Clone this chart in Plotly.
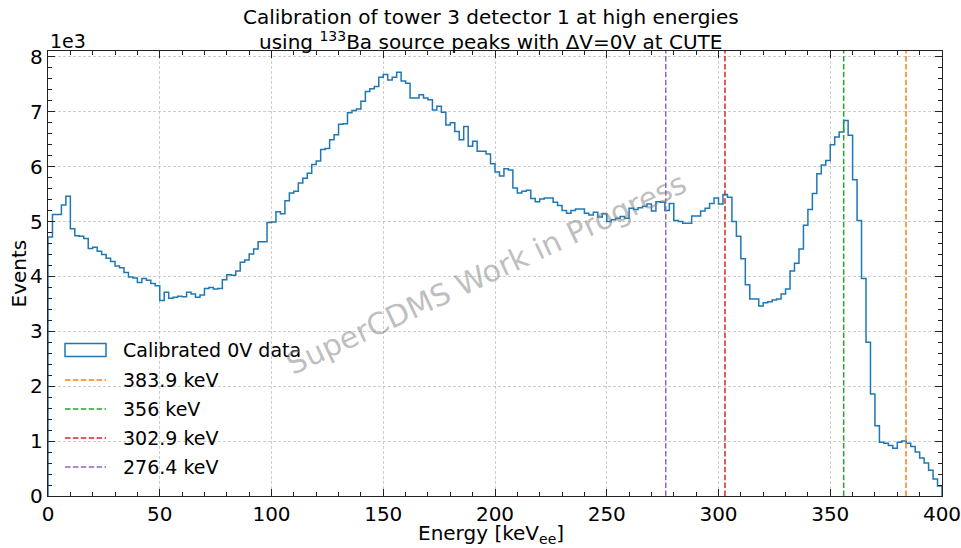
import numpy as np
import plotly.graph_objects as go

# Histogram of calibrated 0V energies: 2 keV bins from 0 to 400 keV
e_min, e_max = 0.0, 400.0
counts = [
    4720, 5130, 5130, 5300, 5460, 4870, 4740, 4730, 4690, 4510,
    4530, 4460, 4400, 4330, 4270, 4190, 4160, 4070, 3990, 3970,
    3890, 3960, 3930, 3870, 3830, 3560, 3710, 3600, 3620, 3640,
    3630, 3710, 3680, 3620, 3660, 3780, 3800, 3770, 3780, 3940,
    4030, 4020, 4100, 4260, 4300, 4410, 4500, 4630, 4630, 4980,
    4990, 5180, 5140, 5380, 5520, 5550, 5700, 5790, 5880, 6040,
    6100, 6310, 6330, 6490, 6580, 6770, 6780, 6980, 7020, 7050,
    7190, 7370, 7420, 7460, 7630, 7680, 7580, 7630, 7720, 7560,
    7520, 7250, 7250, 7310, 7250, 7220, 7030, 7100, 6990, 6760,
    6800, 6640, 6490, 6730, 6370, 6460, 6280, 6280, 6230, 6050,
    5900, 5830, 5960, 5940, 5610, 5520, 5550, 5570, 5420, 5360,
    5410, 5430, 5430, 5350, 5290, 5200, 5150, 5200, 5230, 5230,
    5150, 5120, 5170, 5080, 5140, 5000, 5030, 5060, 5090, 5060,
    5240, 5220, 5250, 5280, 5320, 5190, 5360, 5350, 5200, 5330,
    5020, 5000, 4970, 4970, 5100, 5100, 5190, 5240, 5330, 5430,
    5320, 5490, 5440, 5000, 4730, 4320, 3850, 3590, 3590, 3460,
    3520, 3540, 3570, 3590, 3680, 3770, 4100, 4240, 4500, 4930,
    5220, 5510, 5870, 6030, 6110, 6400, 6540, 6630, 6840, 6570,
    5760, 5020, 3960, 2800, 1860, 1280, 980, 960, 920, 870,
    980, 1000, 960, 900, 800, 690, 600, 470, 310, 180,
]

# Ba-133 reference peaks
peak_energies = [383.9, 356.0, 302.9, 276.4]
peak_labels = ["383.9 keV", "356 keV", "302.9 keV", "276.4 keV"]
peak_colors = ["#ff7f0e", "#2ca02c", "#d62728", "#9467bd"]

hist_label = "Calibrated 0V data"
hist_color = "#1f77b4"

y_tick_values = [0, 1000, 2000, 3000, 4000, 5000, 6000, 7000, 8000]
y_tick_text = ["0", "1", "2", "3", "4", "5", "6", "7", "8"]
x_tick_values = [0, 50, 100, 150, 200, 250, 300, 350, 400]

FONT = "DejaVu Sans"
FS = 20
W, H = 961, 548
L, R, T, B = 48, 19, 51, 52
PW, PH = W - L - R, H - T - B

edges = np.linspace(e_min, e_max, len(counts) + 1)
xs = [edges[0]] + list(edges[:-1]) + [edges[-1], edges[-1]]
ys = [0] + list(counts) + [counts[-1], 0]

fig = go.Figure()
fig.add_trace(go.Scatter(
    x=xs, y=ys, mode="lines", line=dict(color=hist_color, width=1.5, shape="hv"),
    showlegend=False, hoverinfo="skip",
))

dash = "5.5px,2.4px"
for e, c in zip(peak_energies, peak_colors):
    fig.add_shape(type="line", xref="x", yref="paper", x0=e, x1=e, y0=0, y1=1,
                  line=dict(color=c, width=1.5, dash=dash), layer="above")


def px_x(p):
    return (p - L) / PW


def px_y(p):
    return (H - B - p) / PH


# legend drawn in the lower-left corner of the axes
leg_x0, leg_x1, text_x = 65, 106, 121
row_y = [350, 380, 409, 438, 467]
fig.add_shape(type="rect", xref="paper", yref="paper",
              x0=px_x(leg_x0), x1=px_x(leg_x1), y0=px_y(row_y[0] + 6.5), y1=px_y(row_y[0] - 6.5),
              line=dict(color=hist_color, width=1.5), fillcolor="rgba(0,0,0,0)")
fig.add_annotation(x=px_x(text_x), y=px_y(row_y[0]), xref="paper", yref="paper",
                   text=hist_label, showarrow=False, xanchor="left", yanchor="middle",
                   font=dict(family=FONT, size=19, color="black"))
for yy, lab, c in zip(row_y[1:], peak_labels, peak_colors):
    fig.add_shape(type="line", xref="paper", yref="paper",
                  x0=px_x(leg_x0), x1=px_x(leg_x1), y0=px_y(yy), y1=px_y(yy),
                  line=dict(color=c, width=1.5, dash=dash))
    fig.add_annotation(x=px_x(text_x), y=px_y(yy), xref="paper", yref="paper",
                       text=lab, showarrow=False, xanchor="left", yanchor="middle",
                       font=dict(family=FONT, size=19, color="black"))

# watermark
fig.add_annotation(x=0.49, y=0.5, xref="paper", yref="paper",
                   text="SuperCDMS Work in Progress", showarrow=False, textangle=-25,
                   font=dict(family=FONT, size=30, color="rgba(128,128,128,0.5)"))

# title lines
fig.add_annotation(x=0.495, y=px_y(17), xref="paper", yref="paper",
                   text="Calibration of tower 3 detector 1 at high energies",
                   showarrow=False, yanchor="middle",
                   font=dict(family=FONT, size=FS, color="black"))
fig.add_annotation(x=0.495, y=px_y(41), xref="paper", yref="paper",
                   text="using <sup>133</sup>Ba source peaks with ΔV=0V at CUTE",
                   showarrow=False, yanchor="middle",
                   font=dict(family=FONT, size=FS, color="black"))

# offset text and axis titles
fig.add_annotation(x=0, y=1, xref="paper", yref="paper", text="1e3", showarrow=False,
                   xanchor="left", yanchor="bottom", yshift=-3,
                   font=dict(family=FONT, size=19, color="black"))
fig.add_annotation(x=0.495, y=px_y(534), xref="paper", yref="paper",
                   text="Energy [keV<sub>ee</sub>]", showarrow=False, yanchor="middle",
                   font=dict(family=FONT, size=FS, color="black"))
fig.add_annotation(x=px_x(18), y=0.5, xref="paper", yref="paper", text="Events",
                   showarrow=False, textangle=-90, xanchor="center",
                   font=dict(family=FONT, size=FS, color="black"))

axis_common = dict(
    showline=True, linecolor="#222222", linewidth=1.3, mirror="allticks",
    ticks="inside", ticklen=7, tickwidth=1.1, tickcolor="#222222",
    showgrid=True, gridcolor="rgba(185,185,185,0.7)", gridwidth=0.8, griddash="3px,2px",
    zeroline=False, automargin=False, ticklabeloverflow="allow",
    tickfont=dict(family=FONT, size=FS, color="black"),
)

fig.update_xaxes(range=[e_min, e_max], tickvals=x_tick_values,
                 minor=dict(ticks="inside", ticklen=3.5, dtick=10, tick0=0,
                            tickcolor="#222222", showgrid=False),
                 **axis_common)
fig.update_yaxes(range=[0, 8106], tickvals=y_tick_values, ticktext=y_tick_text,
                 minor=dict(ticks="inside", ticklen=3.5, dtick=200, tick0=0,
                            tickcolor="#222222", showgrid=False),
                 **axis_common)

fig.update_layout(
    width=W, height=H, autosize=False,
    margin=dict(l=L, r=R, t=T, b=B, autoexpand=False),
    plot_bgcolor="white", paper_bgcolor="white",
    font=dict(family=FONT, color="black"),
)

fig.write_html("out.html")
